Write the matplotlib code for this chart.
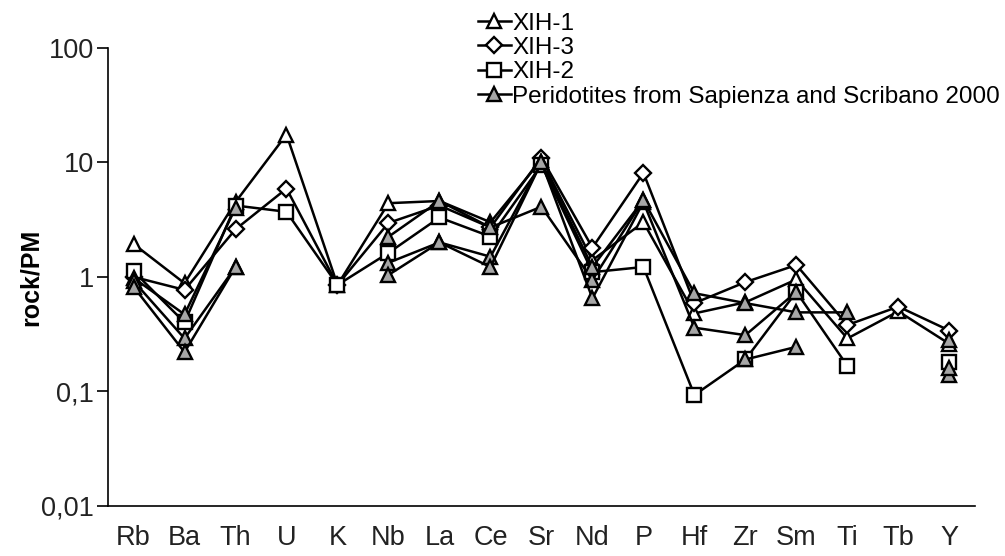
import numpy as np
import matplotlib
matplotlib.use("Agg")
import matplotlib.pyplot as plt

plt.rcParams['font.family'] = ['Liberation Sans', 'DejaVu Sans']

nan = np.nan
elements = ['Rb', 'Ba', 'Th', 'U', 'K', 'Nb', 'La', 'Ce', 'Sr', 'Nd', 'P',
            'Hf', 'Zr', 'Sm', 'Ti', 'Tb', 'Y']

xih1 = [1.94, 0.88, 4.5, 17.5, 0.85, 4.4, 4.6, 3.0, 10.5, 1.4, 3.0,
        0.48, 0.6, 0.95, 0.29, 0.5, 0.26]
xih3 = [1.0, 0.77, 2.6, 5.9, 0.85, 2.96, 4.2, 2.7, 11.0, 1.8, 8.1,
        0.59, 0.9, 1.27, 0.38, 0.55, 0.34]
xih2 = [1.12, 0.40, 4.2, 3.7, 0.85, 1.62, 3.3, 2.25, 9.5, 1.1, 1.22,
        0.093, 0.19, 0.74, 0.167, nan, 0.18]

# peridotites (Sapienza and Scribano 2000), several samples
peri = [
    [0.98, 0.47, 4.0, nan, nan, 2.24, 4.6, 2.7, 4.1, 0.94, 4.7,
     0.72, 0.59, 0.49, 0.49, nan, 0.28],
    [0.92, 0.29, 1.22, nan, nan, 1.33, 2.0, 1.5, 10.0, 0.65, 4.5,
     0.36, 0.31, 0.74, nan, nan, 0.14],
    [0.82, 0.22, 1.22, nan, nan, 1.04, 2.0, 1.22, 10.0, 1.22, 4.7,
     nan, 0.19, 0.245, nan, nan, 0.16],
]

x = np.arange(len(elements))

fig = plt.figure(figsize=(10.05, 5.56), dpi=100)
ax = fig.add_axes([0.1075, 0.09, 0.8625, 0.824])

style = dict(color='black', lw=1.8, markersize=10, markeredgewidth=1.7,
             markeredgecolor='black')
l1, = ax.plot(x, xih1, marker='^', markerfacecolor='white', label='XIH-1', **style)
l3, = ax.plot(x, xih3, marker='D', markerfacecolor='white', label='XIH-3',
              **{**style, 'markersize': 8})
l2, = ax.plot(x, xih2, marker='s', markerfacecolor='white', label='XIH-2', **style)
lp = None
for i, row in enumerate(peri):
    h, = ax.plot(x, row, marker='^', markerfacecolor='#a6a6a6',
                 label='Peridotites from Sapienza and Scribano 2000' if i == 0 else None,
                 **style)
    if lp is None:
        lp = h

ax.set_yscale('log')
ax.set_ylim(0.01, 100)
ax.set_xlim(-0.5, len(elements) - 0.5)
ax.set_yticks([0.01, 0.1, 1, 10, 100])
ax.set_yticklabels(['0,01', '0,1', '1', '10', '100'])
ax.minorticks_off()
ax.set_xticks(x)
ax.set_xticklabels(elements)
ax.tick_params(axis='y', direction='out', length=8, width=1.2, labelsize=19.5,
               pad=2, labelcolor='#222222')
ax.tick_params(axis='x', length=0, labelsize=19.5, pad=14, labelcolor='#222222')
ax.set_ylabel('rock/PM', fontsize=18, fontweight='bold', labelpad=-1)

for s in ['top', 'right']:
    ax.spines[s].set_visible(False)
for s in ['left', 'bottom']:
    ax.spines[s].set_linewidth(1.2)

fig.legend(handles=[l1, l3, l2, lp], loc='upper left',
           bbox_to_anchor=(0.466, 0.995), frameon=False, fontsize=17.5,
           handlelength=1.35, handletextpad=0.05, labelspacing=0.1,
           borderaxespad=0)

fig.savefig('out.png', dpi=100)
